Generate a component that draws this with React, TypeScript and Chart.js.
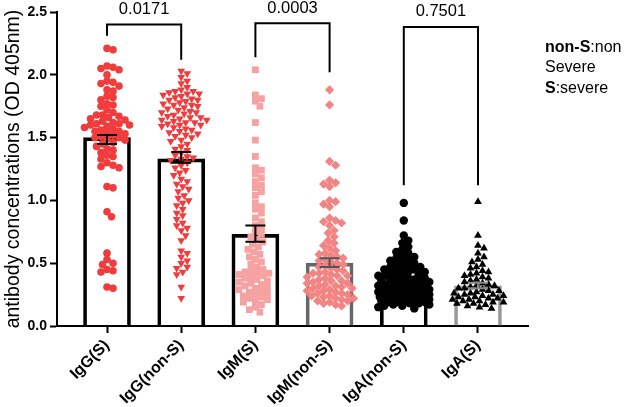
import React, { useEffect, useRef } from "react";
import { Chart, registerables } from "chart.js";

Chart.register(...registerables);

const categories = ["IgG(S)", "IgG(non-S)", "IgM(S)", "IgM(non-S)", "IgA(non-S)", "IgA(S)"];
const barMeans = [1.5, 1.33, 0.73, 0.5, 0.335, 0.32];
const semLow = [1.45, 1.3, 0.67, 0.47, 0.32, 0.3];
const semHigh = [1.52, 1.385, 0.8, 0.54, 0.35, 0.345];
const yTicks = [0, 0.5, 1.0, 1.5, 2.0, 2.5];

const igGS = [2.21, 2.2, 2.07, 2.06, 2.05, 2.04, 2.0, 1.95, 1.94, 1.93, 1.91, 1.88, 1.87, 1.83, 1.82, 1.8, 1.77, 1.76, 1.75, 1.72, 1.7, 1.68, 1.68, 1.67, 1.66, 1.65, 1.64, 1.63, 1.62, 1.61, 1.61, 1.6, 1.6, 1.59, 1.58, 1.57, 1.56, 1.55, 1.55, 1.54, 1.53, 1.52, 1.51, 1.5, 1.5, 1.49, 1.48, 1.46, 1.45, 1.43, 1.41, 1.4, 1.38, 1.36, 1.35, 1.33, 1.3, 1.28, 1.27, 1.26, 1.11, 1.1, 0.91, 0.87, 0.58, 0.53, 0.5, 0.49, 0.45, 0.44, 0.43, 0.31, 0.3];
const igGNonS = [2.03, 2.01, 1.98, 1.95, 1.93, 1.9, 1.88, 1.87, 1.87, 1.86, 1.85, 1.85, 1.84, 1.83, 1.82, 1.81, 1.8, 1.8, 1.79, 1.78, 1.77, 1.76, 1.76, 1.75, 1.74, 1.73, 1.72, 1.71, 1.7, 1.7, 1.69, 1.68, 1.67, 1.66, 1.66, 1.65, 1.64, 1.64, 1.63, 1.62, 1.62, 1.61, 1.6, 1.6, 1.59, 1.58, 1.57, 1.56, 1.55, 1.54, 1.53, 1.52, 1.51, 1.5, 1.48, 1.47, 1.45, 1.43, 1.41, 1.4, 1.38, 1.36, 1.35, 1.34, 1.33, 1.32, 1.3, 1.28, 1.26, 1.24, 1.22, 1.2, 1.17, 1.15, 1.13, 1.11, 1.09, 1.07, 1.04, 1.02, 1.0, 0.98, 0.96, 0.93, 0.9, 0.88, 0.85, 0.82, 0.8, 0.78, 0.76, 0.72, 0.68, 0.6, 0.58, 0.55, 0.52, 0.5, 0.47, 0.46, 0.43, 0.41, 0.31, 0.22];
const igMS = [2.04, 1.84, 1.81, 1.79, 1.75, 1.62, 1.48, 1.35, 1.26, 1.24, 1.21, 1.18, 1.15, 1.12, 1.1, 1.07, 1.04, 0.98, 0.95, 0.93, 0.9, 0.86, 0.83, 0.8, 0.78, 0.75, 0.73, 0.71, 0.69, 0.67, 0.65, 0.63, 0.61, 0.59, 0.57, 0.55, 0.53, 0.51, 0.49, 0.47, 0.45, 0.44, 0.43, 0.42, 0.42, 0.41, 0.4, 0.39, 0.38, 0.37, 0.36, 0.35, 0.34, 0.33, 0.32, 0.31, 0.3, 0.29, 0.28, 0.27, 0.26, 0.25, 0.24, 0.23, 0.22, 0.21, 0.2, 0.19, 0.17, 0.15, 0.13, 0.11];
const igMNonS = [1.88, 1.76, 1.31, 1.28, 1.16, 1.14, 1.13, 1.11, 1.0, 0.99, 0.97, 0.95, 0.86, 0.84, 0.83, 0.82, 0.8, 0.76, 0.74, 0.71, 0.68, 0.66, 0.64, 0.62, 0.6, 0.58, 0.57, 0.56, 0.55, 0.54, 0.53, 0.52, 0.51, 0.5, 0.49, 0.48, 0.47, 0.46, 0.45, 0.44, 0.43, 0.42, 0.42, 0.41, 0.4, 0.4, 0.39, 0.38, 0.37, 0.36, 0.36, 0.35, 0.34, 0.34, 0.33, 0.32, 0.32, 0.31, 0.3, 0.3, 0.29, 0.28, 0.28, 0.27, 0.26, 0.26, 0.25, 0.24, 0.24, 0.23, 0.22, 0.22, 0.21, 0.2, 0.2, 0.19, 0.18, 0.17, 0.16];
const igANonS = [0.98, 0.84, 0.72, 0.68, 0.66, 0.63, 0.61, 0.59, 0.58, 0.56, 0.55, 0.54, 0.53, 0.52, 0.51, 0.5, 0.49, 0.48, 0.47, 0.47, 0.46, 0.45, 0.45, 0.44, 0.43, 0.43, 0.42, 0.41, 0.41, 0.4, 0.4, 0.39, 0.38, 0.38, 0.37, 0.37, 0.36, 0.36, 0.35, 0.35, 0.34, 0.34, 0.33, 0.33, 0.32, 0.32, 0.31, 0.31, 0.3, 0.3, 0.3, 0.29, 0.29, 0.28, 0.28, 0.28, 0.27, 0.27, 0.26, 0.26, 0.26, 0.25, 0.25, 0.25, 0.24, 0.24, 0.24, 0.23, 0.23, 0.23, 0.22, 0.22, 0.22, 0.21, 0.21, 0.21, 0.2, 0.2, 0.2, 0.19, 0.19, 0.19, 0.18, 0.18, 0.17, 0.17, 0.16, 0.16, 0.15, 0.14];
const igAS = [0.99, 0.72, 0.64, 0.62, 0.58, 0.55, 0.53, 0.51, 0.49, 0.47, 0.46, 0.44, 0.43, 0.42, 0.41, 0.4, 0.39, 0.38, 0.37, 0.36, 0.35, 0.34, 0.33, 0.32, 0.32, 0.31, 0.3, 0.3, 0.29, 0.28, 0.28, 0.27, 0.26, 0.26, 0.25, 0.25, 0.24, 0.24, 0.23, 0.23, 0.22, 0.22, 0.21, 0.21, 0.2, 0.2, 0.19, 0.19, 0.18, 0.18, 0.17, 0.16, 0.15, 0.14];

const bracketLeft = [0, 2, 4];
const bracketRight = [1, 3, 5];
const bracketTop = [2.4, 2.41, 2.38];
const bracketLeftEnd = [2.31, 2.14, 1.12];
const bracketRightEnd = [2.12, 2.02, 1.12];
const pValues = ["0.0171", "0.0003", "0.7501"];

const FONT = "'Liberation Sans', Arial, sans-serif";
const PX_X = 74.2;
const PX_Y = 125.6;

function swarm(values: number[], center: number, minDist: number, maxPx: number) {
  const placed: { x: number; y: number }[] = [];
  const out: { x: number; y: number }[] = [];
  const order = values.map((v, i) => i).sort((a, b) => values[b] - values[a]);
  for (const i of order) {
    const yPx = values[i] * PX_Y;
    let best = 0;
    let bestScore = -1;
    const cands: number[] = [0];
    for (let k = 1; k * 1.5 <= maxPx; k++) {
      cands.push(k * 1.5, -k * 1.5);
    }
    for (const c of cands) {
      let md = Infinity;
      for (const p of placed) {
        const d = Math.hypot(p.x - c, p.y - yPx);
        if (d < md) md = d;
      }
      if (md >= minDist) {
        best = c;
        bestScore = Infinity;
        break;
      }
      if (md > bestScore) {
        bestScore = md;
        best = c;
      }
    }
    placed.push({ x: best, y: yPx });
    out.push({ x: center + best / PX_X, y: values[i] });
  }
  return out;
}

export default function App() {
  const ref = useRef<HTMLCanvasElement>(null);
  useEffect(() => {
    document.body.style.margin = "0";
    const ctx = ref.current!.getContext("2d")!;
    const overlay = {
      id: "overlay",
      afterDatasetsDraw(chart: any) {
        const c = chart.ctx;
        const xs = chart.scales.x;
        const ys = chart.scales.y;
        c.save();
        const ebColors = ["#000", "#000", "#000", "#555", "#000", "#888"];
        for (let i = 0; i < categories.length; i++) {
          const x = xs.getPixelForValue(i);
          const y1 = ys.getPixelForValue(semLow[i]);
          const y2 = ys.getPixelForValue(semHigh[i]);
          c.strokeStyle = ebColors[i];
          c.lineWidth = 2;
          c.beginPath();
          c.moveTo(x, y1);
          c.lineTo(x, y2);
          c.moveTo(x - 10, y1);
          c.lineTo(x + 10, y1);
          c.moveTo(x - 10, y2);
          c.lineTo(x + 10, y2);
          c.stroke();
        }
        c.strokeStyle = "#000";
        c.lineWidth = 2;
        c.fillStyle = "#000";
        c.font = `16.5px ${FONT}`;
        c.textAlign = "center";
        c.textBaseline = "bottom";
        for (let b = 0; b < pValues.length; b++) {
          const xl = xs.getPixelForValue(bracketLeft[b]);
          const xr = xs.getPixelForValue(bracketRight[b]);
          const yt = ys.getPixelForValue(bracketTop[b]);
          c.beginPath();
          c.moveTo(xl, ys.getPixelForValue(bracketLeftEnd[b]));
          c.lineTo(xl, yt);
          c.lineTo(xr, yt);
          c.lineTo(xr, ys.getPixelForValue(bracketRightEnd[b]));
          c.stroke();
          c.fillText(pValues[b], (xl + xr) / 2, yt - 7);
        }
        c.textAlign = "left";
        c.textBaseline = "alphabetic";
        const lx = 545;
        c.font = `bold 16px ${FONT}`;
        c.fillText("non-S", lx, 52);
        let w = c.measureText("non-S").width;
        c.font = `16px ${FONT}`;
        c.fillText(":non", lx + w, 52);
        c.fillText("Severe", lx, 72);
        c.font = `bold 16px ${FONT}`;
        c.fillText("S", lx, 93);
        w = c.measureText("S").width;
        c.font = `16px ${FONT}`;
        c.fillText(":severe", lx + w, 93);
        c.restore();
      },
    };

    const chart = new Chart(ctx, {
      type: "bar",
      data: {
        datasets: [
          {
            type: "bar",
            data: categories.map((_, i) => ({ x: i, y: barMeans[i] })),
            backgroundColor: "rgba(255,255,255,0)",
            borderColor: ["#000", "#000", "#000", "#666", "#000", "#999"],
            borderWidth: 3,
            borderSkipped: "bottom",
            barThickness: 47,
            grouped: false,
            order: 10,
          } as any,
          {
            type: "scatter",
            data: swarm(igGS, 0, 6, 30),
            backgroundColor: "#f03c3c",
            pointStyle: "circle",
            radius: 3.8,
            borderWidth: 0,
            order: 1,
          },
          {
            type: "scatter",
            data: swarm(igGNonS, 1, 6, 32),
            backgroundColor: "#f03c3c",
            pointStyle: "triangle",
            rotation: 180,
            radius: 4.5,
            borderWidth: 0,
            order: 1,
          },
          {
            type: "scatter",
            data: swarm(igMS, 2, 6, 32),
            backgroundColor: "#f7a2a2",
            pointStyle: "rect",
            radius: 4.8,
            borderWidth: 0,
            order: 1,
          },
          {
            type: "scatter",
            data: swarm(igMNonS, 3, 6, 32),
            backgroundColor: "#f28484",
            pointStyle: "rectRot",
            radius: 4.6,
            borderWidth: 0,
            order: 1,
          },
          {
            type: "scatter",
            data: swarm(igANonS, 4, 6, 26),
            backgroundColor: "#000",
            pointStyle: "circle",
            radius: 4.2,
            borderWidth: 0,
            order: 1,
          },
          {
            type: "scatter",
            data: swarm(igAS, 5, 6, 26),
            backgroundColor: "#000",
            pointStyle: "triangle",
            radius: 4.5,
            borderWidth: 0,
            order: 1,
          },
        ],
      },
      options: {
        responsive: false,
        animation: false,
        layout: { padding: { left: 0, right: 102, top: 12, bottom: 0 } },
        plugins: { legend: { display: false }, tooltip: { enabled: false } },
        scales: {
          x: {
            type: "linear",
            min: -0.674,
            max: 5.674,
            offset: false,
            afterBuildTicks: (s: any) => {
              s.ticks = categories.map((_, i) => ({ value: i }));
            },
            afterFit: (s: any) => {
              s.height = 81;
            },
            ticks: {
              autoSkip: false,
              minRotation: 45,
              maxRotation: 45,
              color: "#000",
              font: { family: FONT, size: 16, weight: "bold" },
              callback: (v: any) => categories[v as number] ?? "",
            },
            grid: {
              offset: false,
              drawOnChartArea: false,
              drawTicks: true,
              tickLength: 7,
              tickColor: "#000",
              tickWidth: 2,
            },
            border: { display: true, color: "#000", width: 2 },
          },
          y: {
            type: "linear",
            min: 0,
            max: 2.5,
            afterBuildTicks: (s: any) => {
              s.ticks = yTicks.map((v) => ({ value: v }));
            },
            afterFit: (s: any) => {
              s.width = 57;
            },
            ticks: {
              color: "#000",
              padding: 3,
              font: { family: FONT, size: 14, weight: "bold" },
              callback: (v: any) => Number(v).toFixed(1),
            },
            grid: {
              drawOnChartArea: false,
              drawTicks: true,
              tickLength: 7,
              tickColor: "#000",
              tickWidth: 2,
            },
            border: { display: true, color: "#000", width: 2 },
            title: {
              display: true,
              text: "antibody concentrations (OD 405nm)",
              color: "#000",
              font: { family: FONT, size: 19.5 },
              padding: { top: 2, bottom: 0 },
            },
          },
        },
      },
      plugins: [overlay],
    } as any);
    return () => chart.destroy();
  }, []);
  return (
    <div style={{ width: 630, height: 407 }}>
      <canvas ref={ref} width={630} height={407} />
    </div>
  );
}
